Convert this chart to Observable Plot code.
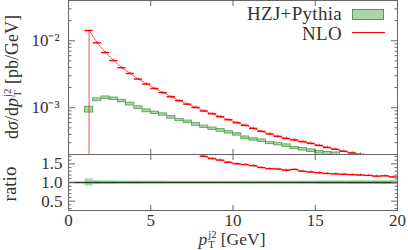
<!DOCTYPE html>
<html><head><meta charset="utf-8">
<script src="https://cdn.jsdelivr.net/npm/d3@7"></script>
<script src="https://cdn.jsdelivr.net/npm/@observablehq/plot@0.6"></script>
<style>
body{margin:0;background:#fff;}
#wrap{position:relative;width:408px;height:250px;font-family:"Liberation Serif",serif;color:#333;overflow:hidden;}
#wrap svg{position:absolute;left:0;}
#wrap svg text{font-family:"Liberation Serif",serif;}
.lab{position:absolute;font-family:"Liberation Serif",serif;font-size:18px;white-space:nowrap;line-height:1;}
.rot{transform:translate(-50%,-50%) rotate(-90deg);}
.ss{display:inline-block;vertical-align:-0.3em;font-size:0.6em;line-height:0.95;text-align:left;margin-left:1px;}
.ss span{display:block;}
.leg{position:absolute;font-family:"Liberation Serif",serif;font-size:19px;letter-spacing:0.3px;white-space:nowrap;text-align:right;line-height:1;}
</style></head><body><div id="wrap"></div><script>
// ---- data ----
const binWidth = 0.5;
const nloBinLow = [1,1.5,2,2.5,3,3.5,4,4.5,5,5.5,6,6.5,7,7.5,8,8.5,9,9.5,10,10.5,11,11.5,12,12.5,13,13.5,14,14.5,15,15.5,16,16.5,17,17.5];
const nloValue = [0.01426,0.00933,0.00668,0.00508,0.00395,0.00325,0.00268,0.00226,0.00194,0.00168,0.00146,0.00127,0.00113,0.00101,0.000893,0.000813,0.000734,0.000662,0.000597,0.000545,0.000491,0.000443,0.000405,0.000373,0.000348,0.00033,0.000311,0.000293,0.000273,0.000255,0.000239,0.000223,0.000211,0.000201];
const nloErrUp = [0.02,0.04,0.04,0.04,0.04,0.04,0.04,0.045,0.045,0.045,0.045,0.045,0.045,0.05,0.05,0.05,0.05,0.05,0.05,0.05,0.05,0.05,0.05,0.05,0.05,0.05,0.05,0.05,0.05,0.05,0.05,0.05,0.05,0.05];
const nloErrDown = [0.99,0.04,0.04,0.04,0.04,0.04,0.04,0.045,0.045,0.045,0.045,0.045,0.045,0.05,0.05,0.05,0.05,0.05,0.05,0.05,0.05,0.05,0.05,0.05,0.05,0.05,0.05,0.05,0.05,0.05,0.05,0.05,0.05,0.05];

const hzjBinLow = [1,1.5,2,2.5,3,3.5,4,4.5,5,5.5,6,6.5,7,7.5,8,8.5,9,9.5,10,10.5,11,11.5,12,12.5,13,13.5,14,14.5,15,15.5,16];
const hzjValue = [9.4e-4,1.315e-3,1.41e-3,1.36e-3,1.26e-3,1.135e-3,1.0e-3,9.0e-4,8.42e-4,7.92e-4,7.17e-4,6.55e-4,6.18e-4,5.63e-4,5.2e-4,4.86e-4,4.58e-4,4.28e-4,3.99e-4,3.56e-4,3.36e-4,3.21e-4,2.97e-4,2.87e-4,2.71e-4,2.5e-4,2.4e-4,2.28e-4,2.17e-4,2.08e-4,2.04e-4];
const hzjErr = [0.10,0.05,0.045,0.045,0.045,0.05,0.05,0.05,0.04,0.04,0.045,0.04,0.04,0.045,0.04,0.04,0.045,0.04,0.04,0.045,0.04,0.045,0.04,0.045,0.045,0.04,0.045,0.045,0.045,0.05,0.05];

const ratioBandLow = [1,1.5,2,2.5,3,3.5,4,4.5,5,5.5,6,6.5,7,7.5,8,8.5,9,9.5,10,10.5,11,11.5,12,12.5,13,13.5,14,14.5,15,15.5,16,16.5,17,17.5,18,18.5,19,19.5];
const ratioBandErr = [0.095,0.05,0.045,0.045,0.04,0.04,0.04,0.035,0.035,0.035,0.03,0.03,0.03,0.03,0.03,0.03,0.03,0.03,0.03,0.035,0.035,0.035,0.035,0.035,0.035,0.035,0.04,0.04,0.045,0.045,0.045,0.045,0.05,0.05,0.05,0.05,0.055,0.055];

const ratioNloLow = [7.5,8,8.5,9,9.5,10,10.5,11,11.5,12,12.5,13,13.5,14,14.5,15,15.5,16,16.5,17,17.5,18,18.5,19,19.5];
const ratioNloValue = [1.79,1.70,1.64,1.60,1.54,1.50,1.48,1.45,1.40,1.37,1.36,1.33,1.35,1.30,1.28,1.26,1.24,1.23,1.22,1.21,1.20,1.19,1.17,1.18,1.15];
const ratioNloErr = [0.03,0.03,0.03,0.03,0.03,0.03,0.03,0.03,0.03,0.03,0.03,0.03,0.03,0.03,0.03,0.03,0.03,0.03,0.03,0.03,0.03,0.03,0.03,0.03,0.03];

const xTicks = [0,5,10,15,20];
const yMainMajor = [1e-3,1e-2];
const yMainMinor = [3e-4,4e-4,5e-4,6e-4,7e-4,8e-4,9e-4,2e-3,3e-3,4e-3,5e-3,6e-3,7e-3,8e-3,9e-3,2e-2,3e-2,4e-2];
const yMainLabels = {"0.001":"10⁻³","0.01":"10⁻²"};
const yRatioMajor = [0.5,1.0,1.5];
const yRatioMinor = [0.3,0.4,0.6,0.7,0.8,0.9,1.1,1.2,1.3,1.4,1.6,1.7];
const legendNames = ["HZJ+Pythia","NLO"];

// ---- build tables ----
const nlo = nloBinLow.map((lo,i)=>({lo, hi: lo+binWidth, mid: lo+binWidth/2, v: nloValue[i], elo: nloValue[i]*(1-nloErrDown[i]), ehi: nloValue[i]*(1+nloErrUp[i])}));
const hzj = hzjBinLow.map((lo,i)=>({lo, hi: lo+binWidth, ylo: hzjValue[i]*(1-hzjErr[i]), yhi: hzjValue[i]*(1+hzjErr[i])}));
const band = ratioBandLow.map((lo,i)=>({lo, hi: lo+binWidth, ylo: 1-ratioBandErr[i], yhi: 1+ratioBandErr[i]}));
const rnlo = ratioNloLow.map((lo,i)=>({lo, hi: lo+binWidth, mid: lo+binWidth/2, v: ratioNloValue[i], elo: ratioNloValue[i]-ratioNloErr[i], ehi: ratioNloValue[i]+ratioNloErr[i]}));

const RED = "#ff0000", GFILL = "#acd5ac", GSTROKE = "#4f9a4f", FRAME = "#666";
const SERIF = "Liberation Serif";
const style = {fontFamily: SERIF, fontSize:"17px", color:"#333", background:"transparent", overflow:"visible"};

const mainPlot = Plot.plot({
  width: 408, height: 155,
  marginLeft: 68, marginRight: 11, marginTop: 0, marginBottom: 1,
  style,
  x: {domain: [0,20], axis: null},
  y: {type: "log", domain: [2e-4, 0.04], axis: null},
  marks: [
    Plot.rect(hzj, {x1:"lo", x2:"hi", y1:"ylo", y2:"yhi", fill: GFILL, stroke: GSTROKE, strokeWidth: 0.8, clip: true}),
    Plot.line(nlo, {x:"mid", y:"v", stroke: RED, strokeWidth: 0.8, strokeOpacity: 0.8, clip: true}),
    Plot.ruleX(nlo, {x:"mid", y1:"elo", y2:"ehi", stroke: RED, strokeOpacity: 0.7, clip: true}),
    Plot.ruleY(nlo, {x1:"lo", x2:"hi", y:"v", stroke: RED, strokeWidth: 1.4, clip: true}),
    Plot.axisY(yMainMajor, {anchor:"left", tickSize:-7, fill:"none", stroke: FRAME}),
    Plot.axisY(yMainMajor, {anchor:"right", tickSize:-7, fill:"none", stroke: FRAME}),
    Plot.axisY(yMainMinor, {anchor:"left", tickSize:-3.5, fill:"none", stroke: FRAME}),
    Plot.axisY(yMainMinor, {anchor:"right", tickSize:-3.5, fill:"none", stroke: FRAME}),
    Plot.axisY(yMainMajor, {anchor:"left", tickSize:0, tickPadding:9, tickFormat: d => yMainLabels[String(d)], fill:"#333", fontFamily: SERIF, fontSize: 17}),
    Plot.axisX(xTicks, {anchor:"bottom", tickSize:-5, fill:"none", stroke: FRAME}),
    Plot.axisX(xTicks, {anchor:"top", tickSize:-5, fill:"none", stroke: FRAME}),
    Plot.frame({stroke: FRAME})
  ]
});

const ratioPlot = Plot.plot({
  width: 408, height: 96,
  marginLeft: 68, marginRight: 11, marginTop: 0, marginBottom: 40,
  style,
  x: {domain: [0,20], axis: null},
  y: {domain: [0.25, 1.75], axis: null},
  marks: [
    Plot.rect(band, {x1:"lo", x2:"hi", y1:"ylo", y2:"yhi", fill: GFILL, clip: true}),
    Plot.ruleY([1], {stroke:"#1d401d", strokeWidth: 1.3}),
    Plot.line(rnlo, {x:"mid", y:"v", stroke: RED, strokeWidth: 0.8, strokeOpacity: 0.8, clip: true}),
    Plot.ruleX(rnlo, {x:"mid", y1:"elo", y2:"ehi", stroke: RED, strokeOpacity: 0.8, clip: true}),
    Plot.ruleY(rnlo, {x1:"lo", x2:"hi", y:"v", stroke: RED, strokeWidth: 1.3, clip: true}),
    Plot.axisY(yRatioMajor, {anchor:"left", tickSize:-7, fill:"none", stroke: FRAME}),
    Plot.axisY(yRatioMajor, {anchor:"right", tickSize:-7, fill:"none", stroke: FRAME}),
    Plot.axisY(yRatioMinor, {anchor:"left", tickSize:-3.5, fill:"none", stroke: FRAME}),
    Plot.axisY(yRatioMinor, {anchor:"right", tickSize:-3.5, fill:"none", stroke: FRAME}),
    Plot.axisY(yRatioMajor, {anchor:"left", tickSize:0, tickPadding:6, tickFormat: d3.format(".1f"), fill:"#333", fontFamily: SERIF, fontSize: 17}),
    Plot.axisX(xTicks, {anchor:"top", tickSize:-5, fill:"none", stroke: FRAME}),
    Plot.axisX(xTicks, {anchor:"bottom", tickSize:-5, fill:"none", stroke: FRAME}),
    Plot.axisX(xTicks, {anchor:"bottom", tickSize:0, tickPadding:3, fill:"#333", fontFamily: SERIF, fontSize: 17}),
    Plot.frame({stroke: FRAME})
  ]
});

const wrap = document.getElementById("wrap");
mainPlot.style.top = "0px";
ratioPlot.style.top = "154px";
wrap.appendChild(mainPlot);
wrap.appendChild(ratioPlot);

function addHTML(html){ wrap.insertAdjacentHTML("beforeend", html); }
addHTML(`<div class="lab rot" style="left:12px;top:77px;">d<i>σ</i>/d<i>p</i><span class="ss"><span>j2</span><span>T</span></span> [pb/GeV]</div>`);
addHTML(`<div class="lab rot" style="left:9px;top:184px;font-size:19px;">ratio</div>`);
addHTML(`<div class="lab" style="left:232px;top:230px;transform:translateX(-50%);font-size:17.5px;"><i>p</i><span class="ss"><span>j2</span><span>T</span></span> [GeV]</div>`);
// legend
addHTML(`<div class="leg" style="right:66px;top:4px;">${legendNames[0]}</div>`);
addHTML(`<div class="leg" style="right:66px;top:24px;">${legendNames[1]}</div>`);
addHTML(`<div style="position:absolute;left:352px;top:9px;width:30px;height:9px;background:${GFILL};border:1px solid ${GSTROKE};"></div>`);
addHTML(`<div style="position:absolute;left:352px;top:32px;width:33px;height:0;border-top:1.3px solid ${RED};"></div>`);
</script></body></html>
